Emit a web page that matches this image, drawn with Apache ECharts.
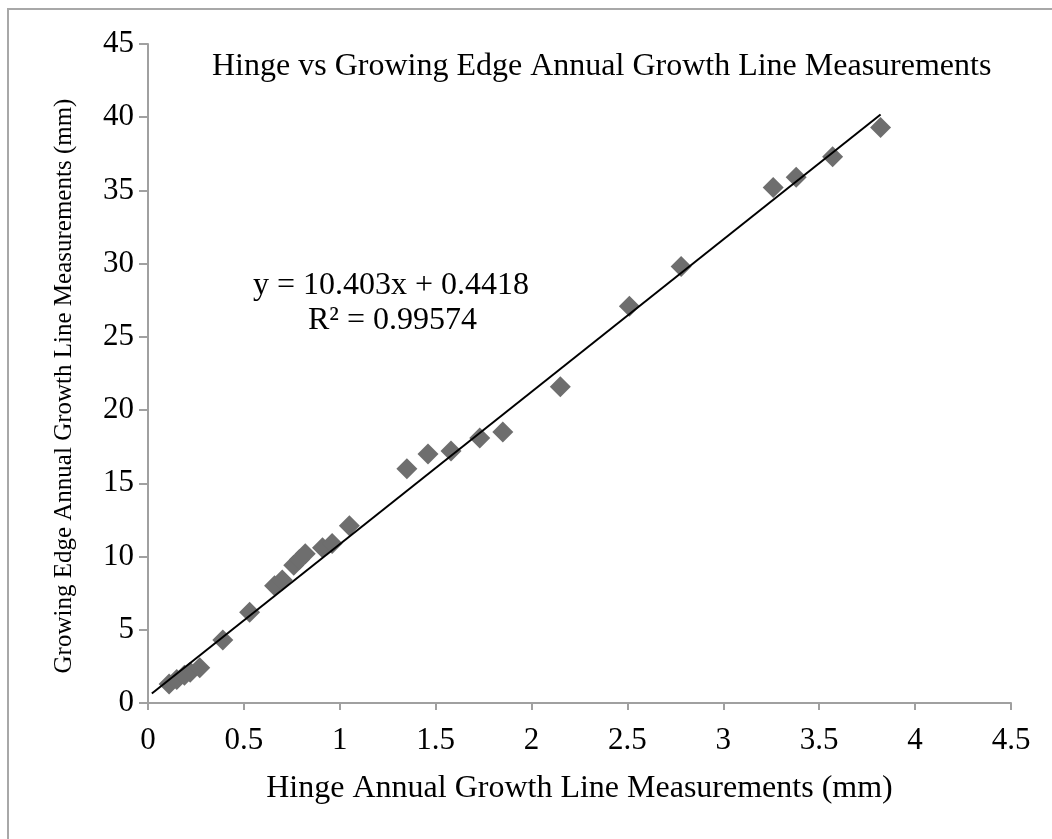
<!DOCTYPE html>
<html>
<head>
<meta charset="utf-8">
<script src="https://cdn.jsdelivr.net/npm/echarts@6/dist/echarts.min.js"></script>
<style>
html,body{margin:0;padding:0;background:#fff;}
#c{width:1052px;height:839px;}
</style>
</head>
<body>
<div id="c"></div>
<script>
// Data
var hingeX = [0.11,0.15,0.19,0.22,0.27,0.39,0.53,0.66,0.70,0.76,0.79,0.82,0.91,0.96,1.05,1.35,1.46,1.58,1.73,1.85,2.15,2.51,2.78,3.26,3.38,3.57,3.82];
var edgeY  = [1.3,1.6,1.9,2.1,2.4,4.3,6.2,8.0,8.4,9.4,9.8,10.2,10.6,10.9,12.1,16.0,17.0,17.2,18.1,18.5,21.6,27.1,29.8,35.2,35.9,37.3,39.3];
var trendSlope = 10.403;
var trendIntercept = 0.4418;
var trendRange = [0.02, 3.82];
var xTicks = {min: 0, max: 4.5, interval: 0.5};
var yTicks = {min: 0, max: 45, interval: 5};
var titleText = 'Hinge vs Growing Edge Annual Growth Line Measurements';
var xName = 'Hinge Annual Growth Line Measurements (mm)';
var yName = 'Growing Edge Annual Growth Line Measurements (mm)';
var eqText = 'y = 10.403x + 0.4418';
var r2Text = 'R\u00b2 = 0.99574';

var points = hingeX.map(function(x, i){ return [x, edgeY[i]]; });
var trend = trendRange.map(function(x){ return [x, trendSlope * x + trendIntercept]; });

var FONT = '"Liberation Serif", "Times New Roman", serif';
var chart = echarts.init(document.getElementById('c'), null, {renderer: 'canvas'});
var axisCol = '#a0a0a0';
chart.setOption({
  backgroundColor: '#ffffff',
  animation: false,
  title: {
    text: titleText,
    left: 207, top: 46,
    textStyle: {fontFamily: FONT, fontSize: 32, fontWeight: 'normal', color: '#000'}
  },
  grid: {left: 148, right: 41, top: 44, bottom: 136, containLabel: false},
  xAxis: {
    type: 'value', min: xTicks.min, max: xTicks.max, interval: xTicks.interval,
    name: xName, nameLocation: 'middle', nameGap: 70,
    nameTextStyle: {fontFamily: FONT, fontSize: 32, color: '#000'},
    axisLine: {show: true, lineStyle: {color: axisCol, width: 2}},
    axisTick: {show: true, length: 7, lineStyle: {color: axisCol, width: 2}},
    axisLabel: {fontFamily: FONT, fontSize: 31, color: '#000', margin: 22},
    splitLine: {show: false}
  },
  yAxis: {
    type: 'value', min: yTicks.min, max: yTicks.max, interval: yTicks.interval,
    axisLine: {show: true, lineStyle: {color: axisCol, width: 2}},
    axisTick: {show: true, length: 9, lineStyle: {color: axisCol, width: 2}},
    axisLabel: {fontFamily: FONT, fontSize: 31, color: '#000', margin: 14},
    splitLine: {show: false}
  },
  series: [
    {
      type: 'line', data: trend, symbol: 'none', silent: true,
      lineStyle: {color: '#000', width: 2}, z: 3
    },
    {
      type: 'scatter', data: points, symbol: 'diamond', symbolSize: 21,
      itemStyle: {color: '#6e6e6e', opacity: 1}, z: 2
    }
  ],
  graphic: [
    {type: 'rect', shape: {x: 8, y: 9, width: 1100, height: 900},
     style: {fill: 'none', stroke: '#a8a8a8', lineWidth: 2}, silent: true, z: -10},
    {type: 'text', x: 64, y: 386, rotation: Math.PI / 2,
     style: {text: yName, font: '25px ' + FONT, fill: '#000', textAlign: 'center', textVerticalAlign: 'middle'}},
    {type: 'text', left: 253, top: 270,
     style: {text: eqText, font: '32px ' + FONT, fill: '#000'}},
    {type: 'text', left: 308, top: 305,
     style: {text: r2Text, font: '32px ' + FONT, fill: '#000'}}
  ]
});
</script>
</body>
</html>
